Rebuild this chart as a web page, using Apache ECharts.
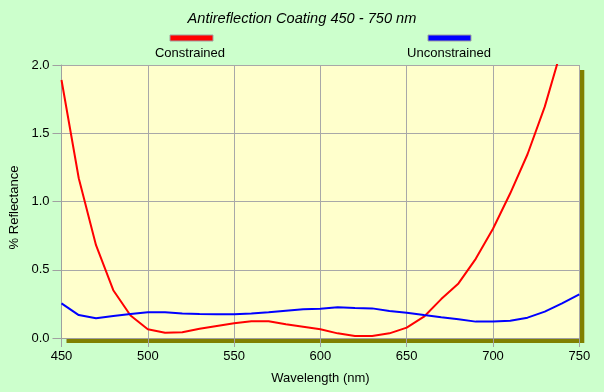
<!DOCTYPE html>
<html>
<head>
<meta charset="utf-8">
<script src="https://cdn.jsdelivr.net/npm/echarts@6/dist/echarts.min.js"></script>
<style>
html,body{margin:0;padding:0;background:#CCFFCC;}
#c{width:604px;height:392px;}
</style>
</head>
<body>
<div id="c"></div>
<script>
var titleText = 'Antireflection Coating 450 - 750 nm';
var xName = 'Wavelength (nm)';
var yName = '% Reflectance';
var seriesNames = ['Constrained', 'Unconstrained'];
var wavelengths = [450,460,470,480,490,500,510,520,530,540,550,560,570,580,590,600,610,620,630,640,650,660,670,680,690,700,710,720,730,740,750];
var constrained = [1.89,1.17,0.68,0.35,0.165,0.064,0.039,0.042,0.068,0.088,0.108,0.122,0.122,0.10,0.083,0.064,0.034,0.015,0.015,0.034,0.076,0.156,0.285,0.40,0.58,0.80,1.06,1.346,1.695,2.13,2.6];
var unconstrained = [0.254,0.168,0.144,0.161,0.176,0.188,0.188,0.18,0.176,0.174,0.174,0.18,0.188,0.2,0.21,0.215,0.225,0.22,0.217,0.198,0.185,0.168,0.152,0.137,0.12,0.12,0.127,0.149,0.193,0.254,0.32];

function pairs(xs, ys){ return xs.map(function(x,i){return [x, ys[i]];}); }

var chart = echarts.init(document.getElementById('c'), null, {renderer:'canvas'});
var fontFam = '"Liberation Sans", Arial, sans-serif';
chart.setOption({
  backgroundColor: '#CCFFCC',
  animation: false,
  title: {
    text: titleText, left: 'center', top: 6,
    textStyle: {fontFamily: fontFam, fontSize: 14.6, fontStyle: 'italic', fontWeight: 'normal', color: '#000'}
  },
  grid: {
    left: 61.5, right: 24.7, top: 65, bottom: 54,
    outerBoundsMode: 'none', containLabel: false,
    show: true, backgroundColor: '#FFFFCC', borderWidth: 0,
    shadowColor: '#808000', shadowOffsetX: 5, shadowOffsetY: 5, shadowBlur: 0
  },
  graphic: [
    {type:'rect', shape:{x:170, y:35, width:43, height:6}, style:{fill:'#FF0000', stroke:'#A0A0A0', lineWidth:1}},
    {type:'text', x:190, y:53.5, style:{text:seriesNames[0], fill:'#000', font:'13px "Liberation Sans", Arial, sans-serif', textAlign:'center', textVerticalAlign:'middle'}},
    {type:'rect', shape:{x:428, y:35, width:43, height:6}, style:{fill:'#0000FF', stroke:'#A0A0A0', lineWidth:1}},
    {type:'text', x:449, y:53.5, style:{text:seriesNames[1], fill:'#000', font:'13px "Liberation Sans", Arial, sans-serif', textAlign:'center', textVerticalAlign:'middle'}}
  ],
  xAxis: {
    type: 'value', min: 450, max: 750, interval: 50,
    name: xName, nameLocation: 'middle', nameGap: 34,
    nameTextStyle: {fontFamily: fontFam, fontSize: 13, color: '#000'},
    axisLine: {show: true, lineStyle: {color: '#A0A0A0', width: 1}},
    axisTick: {show: true, length: 9, lineStyle: {color: '#A0A0A0'}},
    axisLabel: {margin: 12, fontFamily: fontFam, fontSize: 13, color: '#000'},
    splitLine: {show: true, lineStyle: {color: '#A8A8A8', width: 1}}
  },
  yAxis: {
    type: 'value', min: 0, max: 2, interval: 0.5,
    name: yName, nameLocation: 'middle', nameGap: 41, nameRotate: 90,
    nameTextStyle: {fontFamily: fontFam, fontSize: 13, color: '#000', padding: [0, 12, 0, 0]},
    axisLine: {show: true, lineStyle: {color: '#A0A0A0', width: 1}},
    axisTick: {show: true, length: 9, lineStyle: {color: '#A0A0A0'}},
    axisLabel: {margin: 12, fontFamily: fontFam, fontSize: 13, color: '#000', formatter: function(v){return v.toFixed(1);}},
    splitLine: {show: true, lineStyle: {color: '#A8A8A8', width: 1}}
  },
  series: [
    {name: seriesNames[0], type:'line', data: pairs(wavelengths, constrained), showSymbol:false, clip:true,
     lineStyle:{color:'#FF0000', width:2}, itemStyle:{color:'#FF0000'}},
    {name: seriesNames[1], type:'line', data: pairs(wavelengths, unconstrained), showSymbol:false, clip:true,
     lineStyle:{color:'#0000FF', width:2}, itemStyle:{color:'#0000FF'}}
  ]
});
</script>
</body>
</html>
